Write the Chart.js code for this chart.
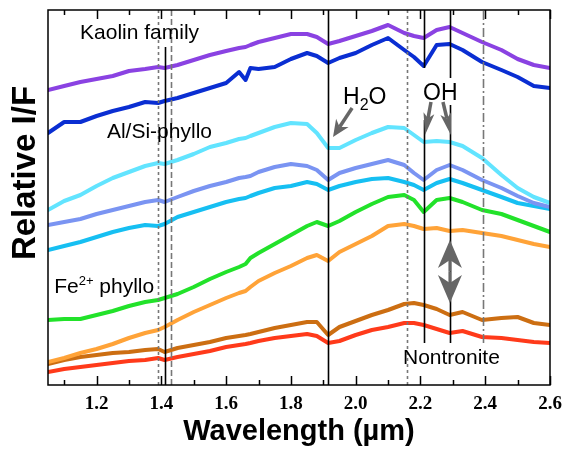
<!DOCTYPE html>
<html>
<head>
<meta charset="utf-8">
<script src="https://cdn.jsdelivr.net/npm/chart.js@4.4.1/dist/chart.umd.min.js"></script>
<style>
  html, body { margin: 0; padding: 0; background: #fff; }
  #wrap { width: 563px; height: 449px; }
</style>
</head>
<body>
<div id="wrap"><canvas id="spectra" width="563" height="449"></canvas></div>
<script>
// wavelength grid (um) and spectra, relative I/F in arbitrary units
const wavelength = [1.05, 1.10, 1.15, 1.20, 1.25, 1.30, 1.35, 1.39, 1.41, 1.45, 1.50, 1.55, 1.60, 1.64, 1.66, 1.675, 1.70, 1.75, 1.80, 1.85, 1.88, 1.915, 1.95, 2.00, 2.05, 2.10, 2.15, 2.18, 2.21, 2.25, 2.29, 2.33, 2.39, 2.45, 2.50, 2.55, 2.60];

const kaolinA   = [295, 299, 303, 306, 309, 314, 316, 318, 317, 320, 325, 330, 334, 337, 338, 340, 343, 347, 351, 351, 348, 341, 344, 349, 354, 360, 352, 349, 347, 355, 358, 352, 343, 335, 326, 320, 317];
const kaolinB   = [252, 263, 263, 269, 274, 278, 283, 282, 284, 287, 292, 297, 302, 313, 305, 317, 316, 318, 326, 332, 329, 322, 327, 332, 340, 347, 335, 328, 319, 340, 341, 335, 323, 315, 308, 299, 297];
const alSiA     = [175, 184, 190, 199, 207, 213, 219, 222, 221, 225, 231, 238, 242, 246, 247, 249, 252, 258, 262, 261, 252, 237, 237, 245, 252, 258, 257, 250, 243, 244, 243, 239, 227, 210, 197, 188, 182];
const alSiB     = [160, 163, 166, 171, 175, 179, 183, 185, 183, 188, 194, 199, 203, 207, 208, 209, 213, 218, 221, 219, 215, 205, 212, 217, 221, 225, 220, 212, 205, 215, 220, 215, 205, 197, 189, 182, 178];
const alSiC     = [135, 139, 143, 148, 153, 157, 160, 159, 161, 168, 173, 178, 183, 186, 187, 189, 192, 197, 199, 203, 201, 195, 199, 203, 206, 207, 203, 200, 195, 202, 206, 202, 195, 188, 182, 179, 176];
const fePhylloA = [65, 66, 66, 70, 74, 79, 83, 85, 87, 91, 98, 106, 113, 118, 121, 127, 132, 141, 150, 159, 163, 159, 164, 173, 181, 188, 190, 185, 173, 185, 187, 183, 175, 171, 165, 159, 153];
const fePhylloB = [23, 27, 32, 36, 41, 47, 52, 55, 58, 65, 73, 80, 87, 92, 94, 98, 104, 112, 119, 127, 130, 124, 133, 141, 149, 159, 161, 159, 156, 157, 154, 155, 152, 149, 145, 141, 138];
const nontronA  = [21, 25, 28, 30, 32, 33, 35, 36, 33, 37, 40, 43, 47, 49, 50, 51, 53, 57, 60, 63, 63, 50, 58, 64, 70, 75, 81, 82, 80, 76, 70, 73, 65, 67, 68, 62, 60];
const nontronB  = [13, 16, 18, 20, 22, 24, 25, 27, 25, 28, 31, 34, 38, 40, 41, 42, 44, 47, 49, 51, 49, 42, 44, 50, 55, 58, 62, 62, 60, 56, 52, 54, 48, 47, 45, 43, 42];

const tickValues = [1.1, 1.2, 1.3, 1.4, 1.5, 1.6, 1.7, 1.8, 1.9, 2.0, 2.1, 2.2, 2.3, 2.4, 2.5, 2.6];
// absorption band positions (um)
const bandLines = [1.39, 1.41, 1.43, 1.915, 2.16, 2.21, 2.29, 2.393];

const series = [
  { data: kaolinA, color: '#8a42e2' },
  { data: kaolinB, color: '#0a2ed2' },
  { data: alSiA, color: '#62e4ff' },
  { data: alSiB, color: '#7a94f2' },
  { data: alSiC, color: '#16bff2' },
  { data: fePhylloA, color: '#22e22a' },
  { data: fePhylloB, color: '#ffa338' },
  { data: nontronA, color: '#cc6e12' },
  { data: nontronB, color: '#ff3a1a' }
];

const Y_MAX = 375;

function arrow(ctx, x0, y0, x1, y1, len, wid, notch) {
  const d = Math.hypot(x1 - x0, y1 - y0);
  const ux = (x1 - x0) / d, uy = (y1 - y0) / d, nx = -uy, ny = ux;
  ctx.beginPath();
  ctx.moveTo(x0, y0);
  ctx.lineTo(x1 - ux * (len - notch), y1 - uy * (len - notch));
  ctx.stroke();
  ctx.beginPath();
  ctx.moveTo(x1, y1);
  ctx.lineTo(x1 - ux * len + nx * wid / 2, y1 - uy * len + ny * wid / 2);
  ctx.lineTo(x1 - ux * (len - notch), y1 - uy * (len - notch));
  ctx.lineTo(x1 - ux * len - nx * wid / 2, y1 - uy * len - ny * wid / 2);
  ctx.closePath();
  ctx.fill();
}

// draw a label made of parts [text, size, dy]
function richText(ctx, x, y, parts) {
  let cx = x;
  parts.forEach(([t, size, dy]) => {
    ctx.font = size + 'px "Liberation Sans", Arial, sans-serif';
    ctx.fillText(t, cx, y + dy);
    cx += ctx.measureText(t).width;
  });
}

const decorations = {
  id: 'decorations',
  afterDatasetsDraw(chart) {
    const { ctx, chartArea: a, scales: { x, y } } = chart;
    const px = v => x.getPixelForValue(v);
    const py = v => y.getPixelForValue(v);
    ctx.save();

    // band lines: [colour, dash, segments]
    const styles = [
      ['#777', [3, 3], [[0, Y_MAX]]],
      ['#000', [], [[0, 338]]],
      ['#777', [6, 3], [[0, Y_MAX]]],
      ['#000', [], [[0, Y_MAX]]],
      ['#777', [3, 3], [[0, Y_MAX]]],
      ['#000', [], [[42, 265], [317, Y_MAX]]],
      ['#000', [], [[42, 280], [307, Y_MAX]]],
      ['#777', [9, 3, 2, 3], [[42, Y_MAX]]]
    ];
    ctx.lineWidth = 1.6;
    bandLines.forEach((w, i) => {
      const [col, dash, segs] = styles[i];
      ctx.strokeStyle = col;
      ctx.setLineDash(dash);
      segs.forEach(([y0, y1]) => {
        ctx.beginPath();
        ctx.moveTo(Math.round(px(w)) + 0.5, py(y0));
        ctx.lineTo(Math.round(px(w)) + 0.5, py(y1));
        ctx.stroke();
      });
    });
    ctx.setLineDash([]);

    // frame and inward ticks
    ctx.strokeStyle = '#000';
    ctx.lineWidth = 1.5;
    ctx.strokeRect(a.left, a.top, a.right - a.left, a.bottom - a.top);
    x.ticks.forEach(t => {
      const major = Math.round(t.value * 10) % 2 === 0;
      const len = major ? 9 : 5;
      const xx = Math.round(px(t.value)) + 0.5;
      ctx.beginPath();
      ctx.moveTo(xx, a.bottom); ctx.lineTo(xx, a.bottom - len);
      ctx.moveTo(xx, a.top); ctx.lineTo(xx, a.top + len);
      ctx.stroke();
    });

    // arrows
    ctx.strokeStyle = '#666';
    ctx.fillStyle = '#666';
    ctx.lineWidth = 3.5;
    arrow(ctx, px(1.989), py(277), px(1.930), py(248), 17, 15, 5);
    arrow(ctx, px(2.2325), py(283), px(2.214), py(250), 22, 11, 5);
    arrow(ctx, px(2.2695), py(283), px(2.294), py(250), 22, 11, 5);
    ctx.lineWidth = 3;
    arrow(ctx, px(2.291), py(113.5), px(2.291), py(145), 28, 24, 8);
    arrow(ctx, px(2.291), py(113.5), px(2.291), py(82), 28, 24, 8);

    // labels
    ctx.fillStyle = '#000';
    ctx.textBaseline = 'alphabetic';
    ctx.textAlign = 'left';
    richText(ctx, px(1.149), py(346), [['Kaolin family', 21, 0]]);
    richText(ctx, px(1.232), py(247), [['Al/Si-phyllo', 21, 0]]);
    richText(ctx, px(1.069), py(92), [['Fe', 21, 0], ['2+', 13, -8], [' phyllo', 21, 0]]);
    richText(ctx, px(1.961), py(281), [['H', 23, 0], ['2', 16, 6], ['O', 23, 0]]);
    richText(ctx, px(2.208), py(285), [['OH', 23, 0]]);
    richText(ctx, px(2.146), py(21), [['Nontronite', 21, 0]]);

    // y axis title
    ctx.translate(35, 173);
    ctx.rotate(-Math.PI / 2);
    ctx.textAlign = 'center';
    ctx.font = 'bold 33px "Liberation Sans", Arial, sans-serif';
    ctx.fillText('Relative I/F', 0, 0);
    ctx.restore();
  }
};

new Chart(document.getElementById('spectra'), {
  type: 'line',
  data: {
    datasets: series.map(s => ({
      data: wavelength.map((w, i) => ({ x: w, y: s.data[i] })),
      borderColor: s.color,
      borderWidth: 4,
      pointRadius: 0,
      fill: false,
      tension: 0,
      borderJoinStyle: 'round',
      borderCapStyle: 'round'
    }))
  },
  options: {
    responsive: false,
    animation: false,
    devicePixelRatio: 1,
    layout: { padding: { left: 8, right: 13, top: 10, bottom: 0 } },
    plugins: { legend: { display: false }, tooltip: { enabled: false } },
    scales: {
      x: {
        type: 'linear',
        min: 1.05,
        max: 2.6,
        afterBuildTicks: s => { s.ticks = tickValues.map(v => ({ value: v })); },
        afterFit: s => { s.height = 64; s.paddingLeft = 0; s.paddingRight = 0; },
        grid: { display: false, drawTicks: false },
        border: { display: false },
        ticks: {
          autoSkip: false,
          maxRotation: 0,
          padding: 8,
          color: '#000',
          font: { family: '"Liberation Serif", "Times New Roman", serif', weight: 'bold', size: 19 },
          callback: v => (Math.round(v * 10) % 2 === 0 ? v.toFixed(1) : '')
        },
        title: {
          display: true,
          text: 'Wavelength (µm)',
          color: '#000',
          padding: { top: 0, bottom: 0 },
          font: { family: '"Liberation Sans", Arial, sans-serif', weight: 'bold', size: 29 }
        }
      },
      y: {
        min: 0,
        max: Y_MAX,
        afterFit: s => { s.width = 40; },
        grid: { display: false, drawTicks: false },
        border: { display: false },
        ticks: { display: false }
      }
    }
  },
  plugins: [decorations]
});
</script>
</body>
</html>
